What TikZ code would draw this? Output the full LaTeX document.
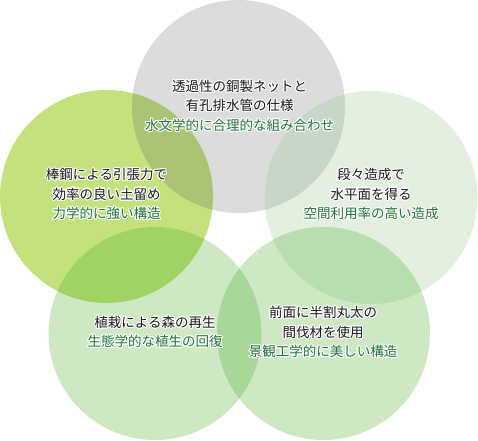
\documentclass[tikz,border=0pt]{standalone}
\usepackage{fontspec}
\setmainfont{Noto Sans CJK JP}
\usetikzlibrary{calc}
\definecolor{cgray}{HTML}{DCDCDC}
\definecolor{cyel}{HTML}{C3E27E}
\definecolor{cright}{HTML}{E3F0E0}
\definecolor{cbl}{HTML}{CFE8C4}
\definecolor{cbr}{HTML}{CFE8C4}
\definecolor{oTL}{HTML}{AAC473}
\definecolor{oTR}{HTML}{C8D6C8}
\definecolor{oLB}{HTML}{A0D264}
\definecolor{oBB}{HTML}{A8D898}
\definecolor{oRB}{HTML}{B8DEB0}
\definecolor{tgreen}{HTML}{1F7538}
\definecolor{tdark}{HTML}{1A1A1A}
\def\gcol{tgreen}
\newcommand\halotext[3]{%
  \foreach \a in {0,30,...,330}{\node[txt,halo] at ($(#2)+(\a:1.1)$) {#3};}
  \node[txt] (#1) at (#2) {#3};}
\tikzset{
  txt/.style={align=center,inner sep=0pt,text=tdark,font=\fontsize{13.5}{19.5}\selectfont},
  halo/.style={text=white,execute at begin node=\def\gcol{white}},
  disc/.style={radius=106.5}
}
\begin{document}
\begin{tikzpicture}[x=1pt,y=-1pt]
\useasboundingbox (0,0) rectangle (478,440);
\coordinate (T) at (238.5,106.5);
\coordinate (L) at (106.5,196.5);
\coordinate (Rc) at (371,197.5);
\coordinate (BL) at (155,333.5);
\coordinate (BR) at (323.5,333.5);
\fill[cgray] (T) circle[disc];
\fill[cyel] (L) circle[disc];
\fill[cright] (Rc) circle[disc];
\fill[cbl] (BL) circle[disc];
\fill[cbr] (BR) circle[disc];
\begin{scope}
  \clip (T) circle[disc];
  \fill[oTL] (L) circle[disc];
  \fill[oTR] (Rc) circle[disc];
\end{scope}
\begin{scope}
  \clip (BL) circle[disc];
  \fill[oLB] (L) circle[disc];
  \fill[oBB] (BR) circle[disc];
\end{scope}
\begin{scope}
  \clip (BR) circle[disc];
  \fill[oRB] (Rc) circle[disc];
\end{scope}
\halotext{ttop}{239.5,105.5}{透過性の銅製ネットと\\有孔排水管の仕様\\{\color{\gcol}水文学的に合理的な組み合わせ}}
\halotext{tleft}{106.5,194}{棒鋼による引張力で\\効率の良い土留め\\{\color{\gcol}力学的に強い構造}}
\halotext{tright}{371,194}{段々造成で\\水平面を得る\\{\color{\gcol}空間利用率の高い造成}}
\halotext{tbl}{155,332}{植栽による森の再生\\{\color{\gcol}生態学的な植生の回復}}
\halotext{tbr}{323,332}{前面に半割丸太の\\間伐材を使用\\{\color{\gcol}景観工学的に美しい構造}}
\end{tikzpicture}
\end{document}
